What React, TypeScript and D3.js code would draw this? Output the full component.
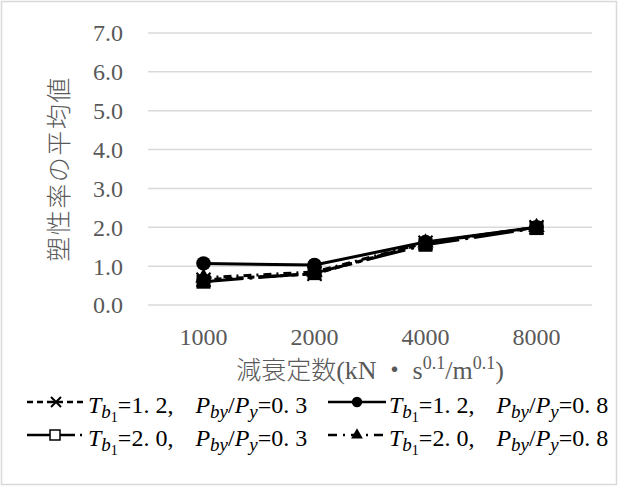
import React, { useEffect, useRef } from "react";
import * as d3 from "d3";

// categories (damping constant)
const categories = ["1000", "2000", "4000", "8000"];
const yTicks = [0, 1, 2, 3, 4, 5, 6, 7];

// series values
const crossValues = [0.65, 0.8, 1.6, 2.0]; // Tb1=1.2, Pby/Py=0.3
const circleValues = [1.07, 1.03, 1.62, 2.0]; // Tb1=1.2, Pby/Py=0.8
const squareValues = [0.6, 0.82, 1.55, 1.98]; // Tb1=2.0, Pby/Py=0.3
const triangleValues = [0.7, 0.85, 1.6, 2.0]; // Tb1=2.0, Pby/Py=0.8

const seriesLabels = [
  { tb: "1. 2", p: "0. 3" },
  { tb: "1. 2", p: "0. 8" },
  { tb: "2. 0", p: "0. 3" },
  { tb: "2. 0", p: "0. 8" },
];

export default function App() {
  const svgRef = useRef<SVGSVGElement>(null);
  const width = 618;
  const height = 486;
  const margin = { top: 33, right: 26, bottom: 181, left: 148 };

  useEffect(() => {
    const svg = d3.select(svgRef.current);
    svg.selectAll("*").remove();

    const innerW = width - margin.left - margin.right;
    const innerH = height - margin.top - margin.bottom;

    // outer frame
    svg
      .append("rect")
      .attr("x", 1.5)
      .attr("y", 1.5)
      .attr("width", width - 3)
      .attr("height", height - 3)
      .attr("fill", "#fff")
      .attr("stroke", "#d9d9d9")
      .attr("stroke-width", 1.5);

    const x = d3.scaleBand().domain(categories).range([0, innerW]);
    const y = d3.scaleLinear().domain([0, 7]).range([innerH, 0]);

    const g = svg
      .append("g")
      .attr("transform", `translate(${margin.left},${margin.top})`);

    // grid lines
    g.selectAll(".grid")
      .data(yTicks)
      .enter()
      .append("line")
      .attr("x1", 0)
      .attr("x2", innerW)
      .attr("y1", (d) => y(d))
      .attr("y2", (d) => y(d))
      .attr("stroke", "#d9d9d9")
      .attr("stroke-width", 1.5);

    const serif = "'Liberation Serif', 'DejaVu Serif', serif";
    const cjk = "'Noto Sans CJK JP', sans-serif";

    // y tick labels
    g.selectAll(".ytick")
      .data(yTicks)
      .enter()
      .append("text")
      .attr("x", -25)
      .attr("y", (d) => y(d))
      .attr("dy", "0.35em")
      .attr("text-anchor", "end")
      .attr("font-family", serif)
      .attr("font-size", 24)
      .attr("fill", "#595959")
      .text((d) => d3.format(".1f")(d));

    // x tick labels
    g.selectAll(".xtick")
      .data(categories)
      .enter()
      .append("text")
      .attr("x", (d) => (x(d) as number) + x.bandwidth() / 2)
      .attr("y", innerH + 40)
      .attr("text-anchor", "middle")
      .attr("font-family", serif)
      .attr("font-size", 24)
      .attr("fill", "#595959")
      .text((d) => d);

    // x axis title
    const xt = svg
      .append("text")
      .attr("x", margin.left + innerW / 2)
      .attr("y", 379)
      .attr("text-anchor", "middle")
      .attr("font-family", serif)
      .attr("font-size", 26)
      .attr("fill", "#595959");
    xt.append("tspan")
      .attr("font-family", cjk)
      .attr("font-weight", 300)
      .attr("font-size", 25)
      .text("減衰定数");
    xt.append("tspan").text("(kN");
    xt.append("tspan").attr("font-family", cjk).attr("dx", 5).text("・");
    xt.append("tspan").attr("dx", 5).text("s");
    xt.append("tspan").attr("font-size", 18).attr("dy", -10).text("0.1");
    xt.append("tspan").attr("dy", 10).text("/m");
    xt.append("tspan").attr("font-size", 18).attr("dy", -10).text("0.1");
    xt.append("tspan").attr("dy", 10).text(")");

    // y axis title
    svg
      .append("text")
      .attr("transform", `translate(68,${margin.top + innerH / 2}) rotate(-90)`)
      .attr("text-anchor", "middle")
      .attr("font-family", cjk)
      .attr("font-weight", 300)
      .attr("font-size", 25)
      .attr("letter-spacing", 1.5)
      .attr("fill", "#595959")
      .text("塑性率の平均値");

    const cx = (i: number) => (x(categories[i]) as number) + x.bandwidth() / 2;
    const line = d3
      .line<number>()
      .x((_, i) => cx(i))
      .y((d) => y(d));

    type Marker = "cross" | "circle" | "square" | "triangle";
    const series: { values: number[]; dash: string; legendDash: string; marker: Marker }[] = [
      { values: crossValues, dash: "7,4", legendDash: "6,4", marker: "cross" },
      { values: circleValues, dash: "", legendDash: "", marker: "circle" },
      { values: squareValues, dash: "40,6,3,6", legendDash: "48,5,2,5", marker: "square" },
      { values: triangleValues, dash: "8,5,2,5", legendDash: "9,6,2,6", marker: "triangle" },
    ];

    const drawMarker = (sel: any, m: Marker, px: number, py: number, s: number) => {
      if (m === "circle") {
        sel.append("circle").attr("cx", px).attr("cy", py).attr("r", s * 0.52).attr("fill", "#000");
      } else if (m === "square") {
        sel
          .append("rect")
          .attr("x", px - s / 2)
          .attr("y", py - s / 2)
          .attr("width", s)
          .attr("height", s)
          .attr("fill", "#000");
      } else if (m === "triangle") {
        sel
          .append("path")
          .attr("d", d3.symbol(d3.symbolTriangle, s * s * 0.6)() as string)
          .attr("transform", `translate(${px},${py})`)
          .attr("fill", "#000");
      } else {
        const r = s / 2;
        sel
          .append("path")
          .attr(
            "d",
            `M${px - r},${py - r}L${px + r},${py + r}M${px - r},${py + r}L${px + r},${py - r}M${px - r},${py}L${px + r},${py}`
          )
          .attr("stroke", "#000")
          .attr("stroke-width", 2)
          .attr("fill", "none");
      }
    };

    const plot = g.append("g");
    series.forEach((s) => {
      plot
        .append("path")
        .datum(s.values)
        .attr("d", line)
        .attr("fill", "none")
        .attr("stroke", "#000")
        .attr("stroke-width", 3)
        .attr("stroke-dasharray", s.dash || null);
    });
    series.forEach((s) => {
      const mg = plot.append("g");
      s.values.forEach((v, i) => drawMarker(mg, s.marker, cx(i), y(v), 14));
    });

    // legend
    const legendPos = [
      { x: 27, y: 402 },
      { x: 328, y: 402 },
      { x: 27, y: 435 },
      { x: 328, y: 435 },
    ];
    series.forEach((s, i) => {
      const p = legendPos[i];
      const lg = svg.append("g") as any;
      lg.append("line")
        .attr("x1", p.x)
        .attr("x2", p.x + 58)
        .attr("y1", p.y)
        .attr("y2", p.y)
        .attr("stroke", "#000")
        .attr("stroke-width", 2.5)
        .attr("stroke-dasharray", s.legendDash || null);
      if (s.marker === "square") {
        lg.append("rect")
          .attr("x", p.x + 23)
          .attr("y", p.y - 5)
          .attr("width", 10)
          .attr("height", 10)
          .attr("fill", "#fff")
          .attr("stroke", "#000")
          .attr("stroke-width", 1.5);
      } else {
        drawMarker(lg, s.marker, p.x + 29, p.y, 10);
      }
      const t = lg
        .append("text")
        .attr("x", p.x + 61)
        .attr("y", p.y + 11)
        .attr("font-family", serif)
        .attr("font-size", 24)
        .attr("fill", "#000");
      t.append("tspan").attr("font-style", "italic").text("T");
      t.append("tspan").attr("font-style", "italic").attr("font-size", 19).attr("dy", 5).text("b");
      t.append("tspan").attr("font-size", 14).attr("dy", 4).text("1");
      t.append("tspan").attr("dy", -9).text(`=${seriesLabels[i].tb},`);
      t.append("tspan").attr("dx", 22).attr("font-style", "italic").text("P");
      t.append("tspan").attr("font-style", "italic").attr("font-size", 19).attr("dy", 5).text("by");
      t.append("tspan").attr("dy", -5).text("/");
      t.append("tspan").attr("font-style", "italic").text("P");
      t.append("tspan").attr("font-style", "italic").attr("font-size", 19).attr("dy", 5).text("y");
      t.append("tspan").attr("dy", -5).text(`=${seriesLabels[i].p}`);
    });
  }, []);

  return (
    <svg
      ref={svgRef}
      width={width}
      height={height}
      style={{ display: "block", position: "absolute", left: 0, top: 0 }}
    />
  );
}
